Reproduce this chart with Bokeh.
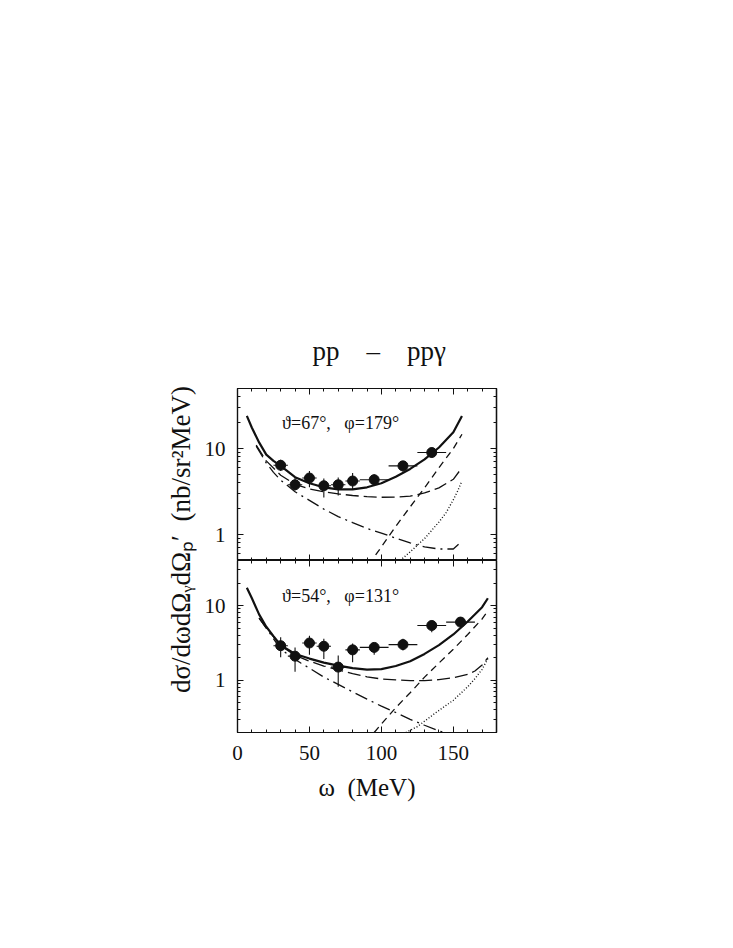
import numpy as np
from bokeh.plotting import figure
from bokeh.models import Range1d, FixedTicker, LinearAxis, LogAxis, Label, BasicTickFormatter
from bokeh.layouts import row, column
from bokeh.embed import file_html
from bokeh.resources import INLINE

# ---------------- data ----------------
# top panel: theta=67, phi=179
top_omega = [30, 40, 50, 60, 70, 80, 95, 115, 135]
top_sigma = [6.4, 3.8, 4.55, 3.7, 3.8, 4.2, 4.35, 6.3, 9.0]
top_xerr = [5, 5, 5, 5, 5, 5, 10, 10, 10]
top_ylo = [5.5, 3.25, 3.55, 2.7, 2.85, 3.4, 3.7, 5.4, 7.9]
top_yhi = [7.4, 4.6, 5.5, 4.5, 4.6, 5.2, 5.05, 7.2, 10.3]

top_solid_w = [6.5, 10, 15, 20, 25, 30, 40, 50, 60, 70, 80, 90, 100, 110, 120, 130, 140, 150, 156]
top_solid = [24, 17.5, 11.8, 8.5, 7.2, 6.3, 4.65, 3.95, 3.55, 3.35, 3.35, 3.55, 3.95, 4.7, 5.8, 7.5, 10.3, 15.5, 24]
top_ldash_w = [13, 20, 30, 40, 50, 60, 70, 80, 90, 100, 110, 120, 130, 140, 150, 156]
top_ldash = [11, 7.2, 4.9, 3.85, 3.4, 3.15, 2.97, 2.85, 2.76, 2.72, 2.73, 2.8, 3.05, 3.5, 4.4, 6.0]
top_dashdot_w = [13, 20, 25, 30, 40, 50, 60, 70, 80, 90, 100, 110, 120, 130, 140, 150, 156]
top_dashdot = [10.7, 6.8, 5.3, 4.3, 3.15, 2.5, 1.98, 1.62, 1.38, 1.18, 1.04, 0.91, 0.8, 0.72, 0.68, 0.68, 0.84]
top_sdash_w = [96, 100, 110, 120, 130, 140, 150, 156]
top_sdash = [0.58, 0.72, 1.25, 2.1, 3.5, 6.0, 10.0, 14.7]
top_dot_w = [113, 120, 130, 140, 145, 150, 153, 156]
top_dot = [0.5, 0.63, 0.9, 1.4, 1.8, 2.55, 3.2, 4.2]

# bottom panel: theta=54, phi=131
bot_omega = [30, 40, 50, 60, 70, 80, 95, 115, 135, 155]
bot_sigma = [2.9, 2.1, 3.15, 2.85, 1.5, 2.55, 2.75, 3.0, 5.4, 6.0]
bot_xerr = [5, 5, 5, 5, 5, 5, 10, 10, 10, 10]
bot_ylo = [2.03, 1.3, 2.2, 1.93, 0.82, 1.74, 2.2, 2.5, 4.4, 4.9]
bot_yhi = [3.75, 2.75, 3.95, 3.6, 2.14, 3.1, 3.1, 3.6, 6.3, 7.0]

bot_solid_w = [6.5, 10, 15, 20, 25, 30, 40, 50, 60, 70, 80, 90, 100, 110, 120, 130, 140, 150, 160, 170, 174]
bot_solid = [17.3, 12.5, 7.6, 5.2, 3.9, 2.95, 2.25, 1.95, 1.72, 1.57, 1.45, 1.39, 1.41, 1.55, 1.8, 2.25, 2.95, 4.1, 6.1, 9.5, 12.5]
bot_ldash_w = [15, 20, 30, 40, 50, 60, 70, 80, 90, 100, 110, 120, 130, 140, 150, 160, 165, 170, 174]
bot_ldash = [6.8, 5.0, 2.9, 2.15, 1.8, 1.55, 1.38, 1.23, 1.11, 1.04, 1.01, 0.99, 0.99, 1.02, 1.08, 1.2, 1.33, 1.6, 2.0]
bot_dashdot_w = [15, 20, 30, 40, 44, 50, 60, 70, 80, 90, 100, 110, 120, 130, 140, 144]
bot_dashdot = [6.8, 5.0, 2.6, 1.9, 1.7, 1.45, 1.1, 0.88, 0.7, 0.56, 0.45, 0.37, 0.3, 0.25, 0.21, 0.2]
bot_sdash_w = [95, 100, 110, 120, 130, 140, 150, 160, 170, 174]
bot_sdash = [0.2, 0.26, 0.43, 0.68, 1.1, 1.7, 2.6, 4.1, 6.6, 8.5]
bot_dot_w = [117, 125, 138, 150, 160, 165, 170, 174]
bot_dot = [0.2, 0.24, 0.37, 0.54, 0.82, 1.05, 1.4, 1.95]

x_major = [0, 50, 100, 150]
y_major = [0.1, 1, 10, 100]

title_text = "pp\u2003\u2013\u2003ppγ"
xlabel_text = "ω\u00a0\u00a0(MeV)"
ylabel_text = "dσ/dωdΩᵧdΩₚ′\u00a0\u00a0(nb/sr²MeV)"
top_note = "ϑ=67°,\u00a0\u00a0\u00a0φ=179°"
bot_note = "ϑ=54°,\u00a0\u00a0\u00a0φ=131°"

SERIF = "Liberation Serif"
INK = "#111111"

x_minor = list(range(0, 181, 10))
y_minor = [m * 10.0 ** e for e in (-1, 0, 1) for m in range(2, 10)]


def tick_style(ax, major_len, minor_len):
    ax.major_tick_in = major_len
    ax.major_tick_out = 0
    ax.minor_tick_in = minor_len
    ax.minor_tick_out = 0
    ax.axis_line_color = INK
    ax.axis_line_width = 1.2
    ax.major_tick_line_color = INK
    ax.minor_tick_line_color = INK
    ax.major_tick_line_width = 1
    ax.minor_tick_line_width = 1


def labelled_axis(ax, is_x, standoff):
    ax.ticker = FixedTicker(ticks=x_major if is_x else y_major,
                            minor_ticks=x_minor if is_x else y_minor)
    tick_style(ax, 6, 3)
    ax.formatter = BasicTickFormatter()
    ax.major_label_text_font = SERIF
    ax.major_label_text_font_size = "21px"
    ax.major_label_text_color = INK
    ax.major_label_standoff = standoff


def bare_axes(p, side, is_x, existing=None):
    # short ticks on every division and longer ticks at the major values, no labels
    AxisCls = LinearAxis if is_x else LogAxis
    a1 = existing if existing is not None else AxisCls()
    a1.ticker = FixedTicker(ticks=[], minor_ticks=x_minor if is_x else y_minor)
    tick_style(a1, 0, 3)
    if existing is None:
        p.add_layout(a1, side)
    a2 = AxisCls()
    a2.ticker = FixedTicker(ticks=[], minor_ticks=x_major if is_x else y_major)
    tick_style(a2, 0, 6)
    p.add_layout(a2, side)


def make_panel(y0, y1, top_border, bottom_border, x_labelled):
    p = figure(x_range=Range1d(0, 180), y_range=Range1d(y0, y1), y_axis_type="log",
               frame_width=259, frame_height=172,
               min_border_left=40, min_border_right=10,
               min_border_top=top_border, min_border_bottom=bottom_border,
               output_backend="svg", toolbar_location=None)
    p.grid.visible = False
    p.outline_line_color = INK
    p.outline_line_width = 1.2
    p.background_fill_color = "white"
    p.border_fill_color = "white"
    labelled_axis(p.left[0], False, 12)
    below = p.below[0]
    if x_labelled:
        labelled_axis(below, True, 13)
    else:
        bare_axes(p, "below", True, existing=below)
    bare_axes(p, "above", True)
    bare_axes(p, "right", False)
    return p, below


def draw(p, om, sg, xe, ylo, yhi, curves):
    for (w, v, dash, lw) in curves:
        p.line(w, v, line_color=INK, line_width=lw, line_dash=dash)
    om = np.array(om, float)
    xe = np.array(xe, float)
    p.segment(x0=om - xe, y0=sg, x1=om + xe, y1=sg, line_color=INK, line_width=1.1)
    p.segment(x0=om, y0=ylo, x1=om, y1=yhi, line_color=INK, line_width=1.1)
    p.scatter(om, sg, size=10, marker="circle", fill_color=INK, line_color=INK)


TOP_BORDER = 388
p1, _ = make_panel(0.5, 50, TOP_BORDER, 0, False)
draw(p1, top_omega, top_sigma, top_xerr, top_ylo, top_yhi, [
    (top_solid_w, top_solid, "solid", 2.2),
    (top_ldash_w, top_ldash, "13 5", 1.3),
    (top_dashdot_w, top_dashdot, "13 5 2 5", 1.3),
    (top_sdash_w, top_sdash, "7 5", 1.3),
    (top_dot_w, top_dot, "1 2", 1.4),
])
p1.add_layout(Label(x=31, y=20, text=top_note, text_font=SERIF, text_font_size="18px",
                    text_baseline="middle", text_align="left", text_color=INK))
p1.title.text = title_text
p1.title.align = "left"
p1.title.offset = 75
p1.title.text_font = SERIF
p1.title.text_font_size = "27px"
p1.title.text_font_style = "normal"
p1.title.text_color = INK
p1.title.standoff = 46

BOTTOM_BORDER = 80
p2, xax = make_panel(0.2, 40, 0, BOTTOM_BORDER, True)
draw(p2, bot_omega, bot_sigma, bot_xerr, bot_ylo, bot_yhi, [
    (bot_solid_w, bot_solid, "solid", 2.2),
    (bot_ldash_w, bot_ldash, "13 5", 1.3),
    (bot_dashdot_w, bot_dashdot, "13 5 2 5", 1.3),
    (bot_sdash_w, bot_sdash, "7 5", 1.3),
    (bot_dot_w, bot_dot, "1 2", 1.4),
])
p2.add_layout(Label(x=31, y=13.6, text=bot_note, text_font=SERIF, text_font_size="18px",
                    text_baseline="middle", text_align="left", text_color=INK))
xax.axis_label = xlabel_text
xax.axis_label_text_font = SERIF
xax.axis_label_text_font_size = "25px"
xax.axis_label_text_font_style = "normal"
xax.axis_label_text_color = INK
xax.axis_label_standoff = 11

H = TOP_BORDER + 172 + 172 + BOTTOM_BORDER
LW = 197
pl = figure(width=LW, height=H, x_range=Range1d(0, LW), y_range=Range1d(H, 0),
            x_axis_type=None, y_axis_type=None, min_border=0,
            output_backend="svg", toolbar_location=None)
pl.outline_line_color = None
pl.grid.visible = False
pl.add_layout(Label(x=180, y=539, text=ylabel_text, angle=np.pi / 2,
                    text_font=SERIF, text_font_size="27px", text_color=INK,
                    text_align="center", text_baseline="middle"))

layout = row(pl, column(p1, p2, spacing=0), spacing=0)
open("out.html", "w").write(file_html(layout, INLINE))
